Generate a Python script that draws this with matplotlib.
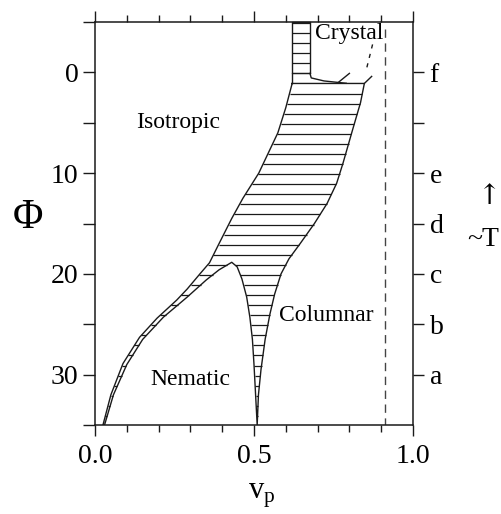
import numpy as np
import matplotlib.pyplot as plt
from matplotlib.collections import LineCollection
from matplotlib.ticker import MultipleLocator, FixedLocator

plt.rcParams["font.family"] = ["Liberation Serif", "DejaVu Serif"]

LINE = "#1a1a1a"

# two-phase region, right edge (isotropic/columnar then nematic/columnar), top -> bottom
right_x = [0.847, 0.835, 0.81, 0.78, 0.76, 0.73, 0.69, 0.645, 0.61, 0.585, 0.565, 0.55, 0.535, 0.522, 0.514, 0.51]
right_phi = [1.1, 3, 5.7, 9, 11, 13, 15, 17, 18.5, 20, 22, 24, 26.5, 29.5, 32, 35]

# nematic/columnar left edge, from the peak down
nc_x = [0.43, 0.447, 0.462, 0.477, 0.487, 0.495, 0.50, 0.505, 0.51]
nc_phi = [18.85, 19.3, 20.5, 22.3, 24.3, 26.5, 29, 32, 35]

# isotropic/nematic band, lower curve from the peak down
in_low_x = [0.43, 0.39, 0.35, 0.29, 0.215, 0.15, 0.10, 0.058, 0.03]
in_low_phi = [18.85, 19.6, 20.6, 22.3, 24.3, 26.5, 29, 32, 35]

# isotropic/nematic band, upper curve from the junction down
in_up_x = [0.36, 0.33, 0.29, 0.257, 0.195, 0.14, 0.088, 0.05, 0.025]
in_up_phi = [18.9, 20.0, 21.5, 22.6, 24.4, 26.3, 28.9, 32, 35]

# isotropic/columnar left edge, junction -> top
left_x = [0.36, 0.39, 0.43, 0.465, 0.515, 0.545, 0.575, 0.60, 0.62]
left_phi = [18.9, 17, 14.5, 12.5, 10, 8, 6, 3.5, 1.1]

# narrow column under "Crystal"
box_x = [0.62, 0.62, 0.676, 0.676]
box_phi = [1.1, -5, -5, 0.1]

# crystal boundary and its small branch
cryst_x = [0.676, 0.68, 0.72, 0.765, 0.79]
cryst_phi = [0.1, 0.55, 0.85, 1.0, 1.08]
branch_x = [0.765, 0.80]
branch_phi = [1.0, 0.1]
corner_x = [0.847, 0.87]
corner_phi = [1.1, 0.4]
dash_x = [0.855, 0.877]
dash_phi = [-0.5, -3.3]

vline_x = 0.912

hatch_step = 1.0
hatch_start = -4.9

right_ticks = [0, 5, 10, 15, 20, 25, 30]
right_labels = ["f", "", "e", "d", "c", "b", "a"]


def hatch_segments(xs, ys, levels):
    """Horizontal hatch lines clipped to a closed polygon."""
    segs = []
    n = len(xs)
    for lv in levels:
        cuts = []
        for i in range(n):
            x0, y0 = xs[i], ys[i]
            x1, y1 = xs[(i + 1) % n], ys[(i + 1) % n]
            if (y0 <= lv < y1) or (y1 <= lv < y0):
                cuts.append(x0 + (lv - y0) * (x1 - x0) / (y1 - y0))
        cuts.sort()
        for a, b in zip(cuts[::2], cuts[1::2]):
            segs.append([(a, lv), (b, lv)])
    return segs


def main():
    fig = plt.figure(figsize=(5.02, 5.14), dpi=100)
    ax = fig.add_axes([95 / 502, 1 - 425 / 514, 318 / 502, 403 / 514])
    ax.set_xlim(0, 1.0)
    ax.set_ylim(35, -5)

    levels = np.arange(hatch_start, 35, hatch_step)

    # main two-phase polygon
    px = [left_x[-1]] + right_x + nc_x[::-1][1:] + in_low_x[1:] + in_up_x[::-1] + left_x[1:-1]
    py = [left_phi[-1]] + right_phi + nc_phi[::-1][1:] + in_low_phi[1:] + in_up_phi[::-1] + left_phi[1:-1]
    ax.plot(px + [px[0]], py + [py[0]], color=LINE, lw=1.0)
    ax.add_collection(LineCollection(hatch_segments(px, py, levels), colors=LINE, linewidths=0.9))

    # column under Crystal
    ax.plot(box_x, box_phi, color=LINE, lw=1.0, clip_on=False)
    bx = [0.62, 0.676, 0.676, 0.62]
    by = [-5.5, -5.5, 0.1, 0.1]
    ax.add_collection(LineCollection(hatch_segments(bx, by, levels), colors=LINE, linewidths=0.9))
    ax.plot([0.62, 0.676], [0.1, 0.1], color=LINE, lw=0.9)

    ax.plot(cryst_x, cryst_phi, color=LINE, lw=1.0)
    ax.plot(branch_x, branch_phi, color=LINE, lw=1.0)
    ax.plot(corner_x, corner_phi, color=LINE, lw=1.0)
    ax.plot(dash_x, dash_phi, color=LINE, lw=1.0, linestyle=(0, (3, 4)))
    ax.plot([vline_x, vline_x], [-4.3, 35], color="#444444", lw=1.0, linestyle=(0, (6, 4)))

    # region labels
    ax.text(0.80, -3.9, "Crystal", ha="center", va="center", fontsize=17)
    ax.text(0.26, 5.0, "Isotropic", ha="center", va="center", fontsize=17)
    ax.text(0.30, 30.5, "Nematic", ha="center", va="center", fontsize=17)
    ax.text(0.728, 24.1, "Columnar", ha="center", va="center", fontsize=17)

    # axes and ticks
    for s in ax.spines.values():
        s.set_linewidth(1.1)
        s.set_color(LINE)
    ax.xaxis.set_major_locator(FixedLocator([0.0, 0.5, 1.0]))
    ax.xaxis.set_minor_locator(MultipleLocator(0.1))
    ax.set_xticklabels(["0.0", "0.5", "1.0"])
    ax.yaxis.set_major_locator(MultipleLocator(10))
    ax.yaxis.set_minor_locator(MultipleLocator(5))
    ax.tick_params(axis="x", which="both", direction="out", top=True, bottom=True,
                   labelsize=20, pad=6, color=LINE, width=1.0)
    ax.tick_params(axis="x", which="major", length=8)
    ax.tick_params(axis="x", which="minor", length=5)
    ax.tick_params(axis="y", which="both", direction="out", left=True, right=False,
                   labelsize=20, pad=3, length=9, color=LINE, width=1.0)

    ax2 = ax.twinx()
    ax2.set_ylim(35, -5)
    ax2.yaxis.set_major_locator(FixedLocator(right_ticks))
    ax2.set_yticklabels(right_labels)
    ax2.tick_params(axis="y", direction="out", length=8, width=1.0, labelsize=20, pad=4, color=LINE)
    for s in ax2.spines.values():
        s.set_visible(False)

    fig.text(27.5 / 502, 1 - 218 / 514, "\u03a6", fontsize=30, ha="center", va="center")
    fig.text(489 / 502, 1 - 197 / 514, "\u2191", fontsize=20, ha="center", va="center",
             family=["DejaVu Serif"])
    fig.text(483 / 502, 1 - 239 / 514, "~T", fontsize=20, ha="center", va="center")
    fig.text(262 / 502, 1 - 495 / 514, r"$\mathregular{v_p}$", fontsize=22, ha="center", va="center")

    fig.savefig("out.png", dpi=100, facecolor="white")
    plt.close(fig)


if __name__ == "__main__":
    main()
